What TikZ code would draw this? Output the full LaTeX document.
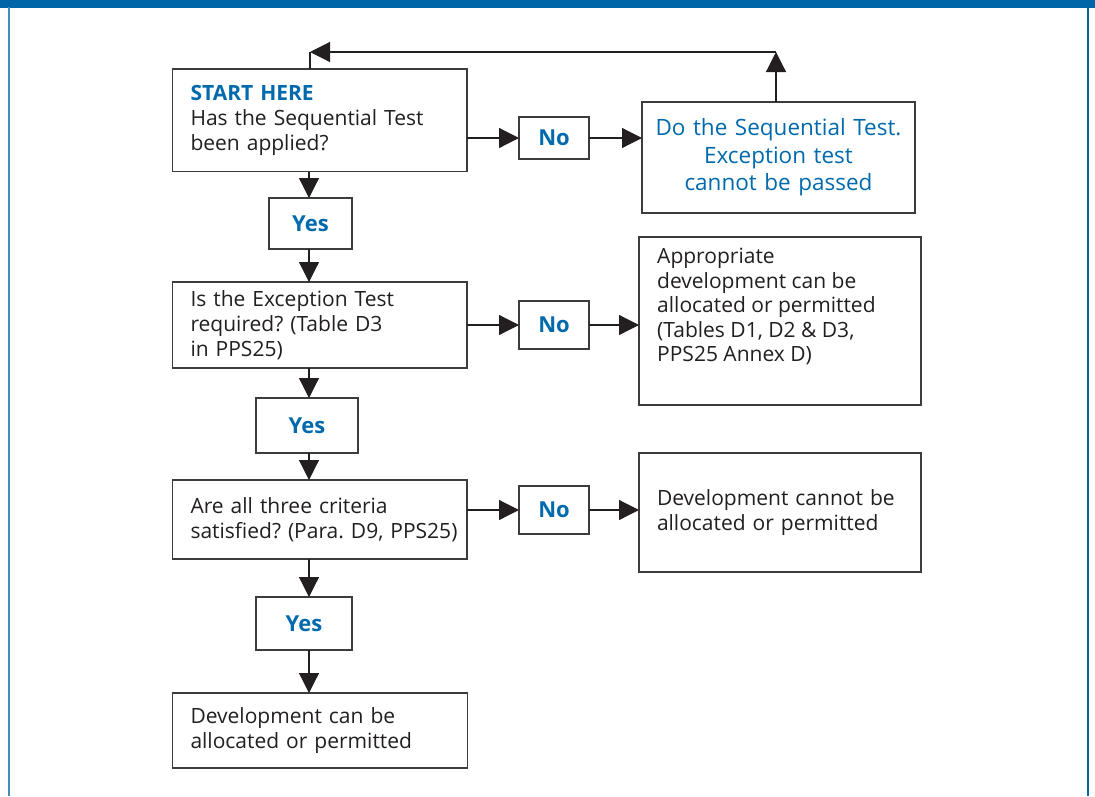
\documentclass[tikz,border=0pt]{standalone}
\usepackage{fontspec}
\setmainfont{Open Sans}
\usetikzlibrary{arrows.meta}
\definecolor{frameblue}{RGB}{0,102,168}
\definecolor{textblue}{RGB}{0,106,173}
\definecolor{ink}{RGB}{35,31,32}
\definecolor{boxline}{RGB}{60,60,60}
\frenchspacing

\begin{document}
\begin{tikzpicture}[x=1pt,y=-1pt,
  box/.style={draw=boxline, line width=1.3pt, rectangle, inner xsep=18pt, inner ysep=0pt,
    outer sep=0pt, text=ink, align=left, font=\fontsize{21}{25}\selectfont},
  answer/.style={draw=boxline, line width=1.3pt, rectangle, inner sep=0pt, outer sep=0pt,
    text=textblue, font=\fontsize{22}{26}\selectfont\bfseries},
  link/.style={draw=ink, line width=1.2pt},
  arr/.style={link, -{Triangle[length=20pt,width=20pt]}},
]
% page and frame
\useasboundingbox (0,0) rectangle (1095,796);
\fill[white] (0,0) rectangle (1095,796);
\fill[frameblue] (0,0) rectangle (1095,7.5);
\draw[frameblue!75, line width=2pt] (9,7) -- (9,796);
\draw[frameblue, line width=2pt] (1087.5,7) -- (1087.5,796);

% left column: questions and answers
\node[box, minimum width=294.5pt, minimum height=102.5pt, text width=258.5pt] (q1) at (319.75,120.25)
  {{\color{textblue}\bfseries START HERE}\\Has the Sequential Test\\been applied?};
\node[answer, minimum width=83pt, minimum height=51pt] (yes1) at (310.5,223.5) {Yes};
\node[box, minimum width=294.5pt, minimum height=86pt, text width=258.5pt] (q2) at (319.75,325)
  {Is the Exception Test\\required? (Table D3\\in PPS25)};
\node[answer, minimum width=102pt, minimum height=55pt] (yes2) at (307,425.5) {Yes};
\node[box, minimum width=294.5pt, minimum height=79pt, text width=258.5pt] (q3) at (319.75,519.5)
  {Are all three criteria\\\mbox{satisfied? (Para. D9, PPS25)}};
\node[answer, minimum width=96pt, minimum height=53pt] (yes3) at (304,623.5) {Yes};
\node[box, minimum width=295pt, minimum height=75pt, text width=259pt] (final) at (320,730.5)
  {Development can be\\allocated or permitted};

% middle column: the "No" answers
\node[answer, minimum width=70pt, minimum height=42pt] (no1) at (554,138) {No};
\node[answer, minimum width=70pt, minimum height=48pt] (no2) at (554,325) {No};
\node[answer, minimum width=70pt, minimum height=48pt] (no3) at (554,510) {No};

% right column: outcomes
\node[box, minimum width=273pt, minimum height=111pt, inner xsep=4pt, text width=265pt, align=center,
  text=textblue, font=\fontsize{22.5}{27.5}\selectfont] (seq) at (778.5,157.5)
  {Do the Sequential Test.\\Exception test\\cannot be passed};
\node[box, minimum width=282pt, minimum height=168pt] (app) at (780,321) {};
\node[anchor=north west, inner sep=0pt, text=ink, align=left, font=\fontsize{21}{24.5}\selectfont]
  (apptext) at ([xshift=18pt,yshift=-11pt]app.north west)
  {Appropriate\\development can be\\allocated or permitted\\(Tables D1, D2 \& D3,\\PPS25 Annex D)};
\node[box, minimum width=282pt, minimum height=119pt, text width=246pt] (cannot) at (780,512.5)
  {Development cannot be\\allocated or permitted};

% routing points
\coordinate (spine) at (309,0);
\coordinate (corner) at (776,52);
\coordinate (turn) at (310,52);

% loop back to the start
\draw[arr] (seq.north -| corner) -- (corner);
\draw[arr] (corner) -- (turn);
\draw[link] (turn) -- (turn |- q1.north);

% "Yes" chain
\draw[arr] (q1.south -| spine) -- (yes1.north -| spine);
\draw[arr] (yes1.south -| spine) -- (q2.north -| spine);
\draw[arr] (q2.south -| spine) -- (yes2.north -| spine);
\draw[arr] (yes2.south -| spine) -- (q3.north -| spine);
\draw[arr] (q3.south -| spine) -- (yes3.north -| spine);
\draw[arr] (yes3.south -| spine) -- (final.north -| spine);

% "No" branches
\draw[arr] (q1.east |- no1) -- (no1.west);
\draw[arr] (no1.east) -- (seq.west |- no1);
\draw[arr] (q2.east |- no2) -- (no2.west);
\draw[arr] (no2.east) -- (app.west |- no2);
\draw[arr] (q3.east |- no3) -- (no3.west);
\draw[arr] (no3.east) -- (cannot.west |- no3);
\end{tikzpicture}
\end{document}
